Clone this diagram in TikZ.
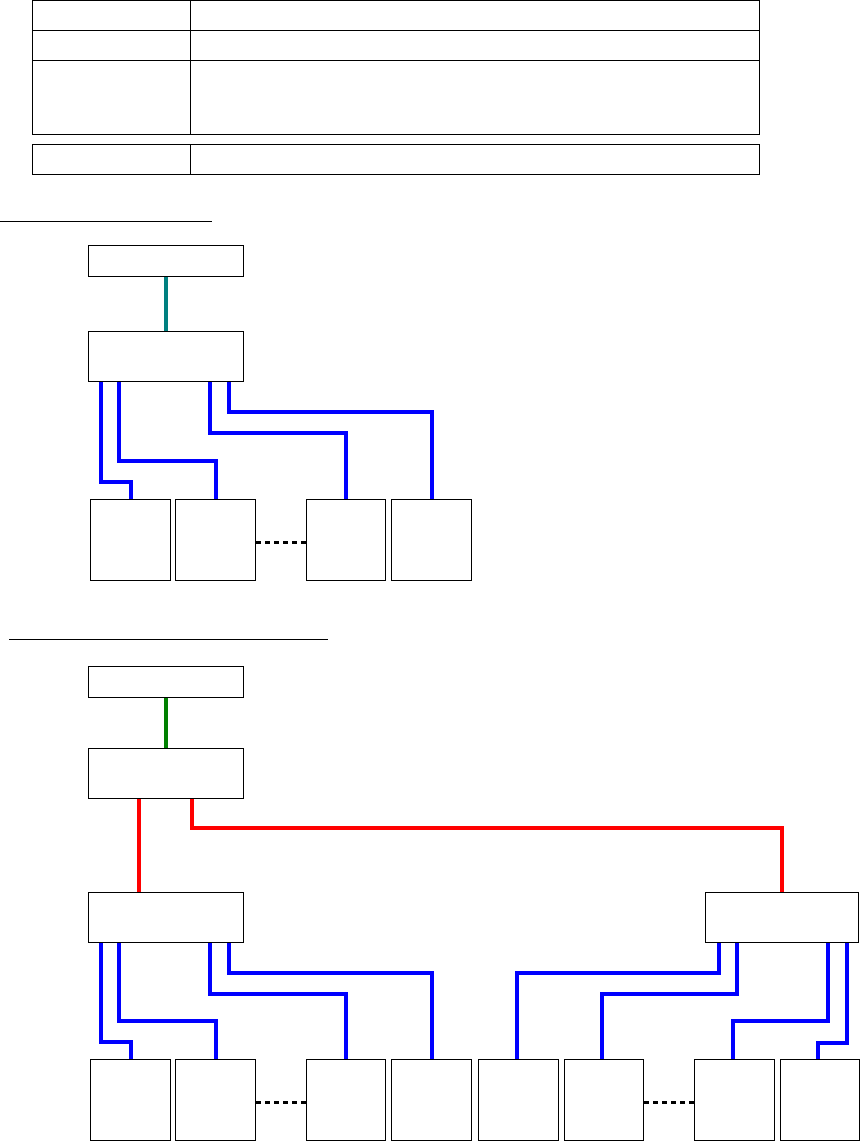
\documentclass[tikz,border=0pt]{standalone}
\definecolor{tealc}{RGB}{0,128,128}
\definecolor{greenc}{RGB}{0,128,0}
\definecolor{bluec}{RGB}{0,0,255}
\definecolor{redc}{RGB}{255,0,0}
\begin{document}
\begin{tikzpicture}[x=1pt,y=-1pt,
  box/.style={draw=black,line width=1pt,inner sep=0pt,anchor=north west,fill=white},
  wide/.style={box,minimum width=154.4pt},
  small/.style={box,minimum width=79.5pt,minimum height=81pt},
  bl/.style={draw=bluec,line width=4pt},
  rd/.style={draw=redc,line width=4pt},
  dotline/.style={draw=black,line width=3.6pt,dash pattern=on 5pt off 4pt},
  tbl/.style={draw=black,line width=1pt}]
\useasboundingbox (0,0) rectangle (860,1141);
% table
\draw[tbl] (32,0.8) rectangle (759.3,134.3);
\draw[tbl] (32,30.3) -- (759.3,30.3);
\draw[tbl] (32,60.3) -- (759.3,60.3);
\draw[tbl] (190.3,0.8) -- (190.3,134.3);
\draw[tbl] (32,144.3) rectangle (759.3,174);
\draw[tbl] (190.3,144.3) -- (190.3,174);
% underlines
\draw[tbl] (0,221) -- (212,221);
\draw[tbl] (9,639.3) -- (328,639.3);

% ---------- section 1 ----------
\node[wide,minimum height=31pt] (A1) at (88.3,245.3) {};
\node[wide,minimum height=50.3pt] (B1) at (88.3,331) {};
\node[small] (s1) at (90.3,499.3) {};
\node[small,minimum width=80pt] (s2) at (175.3,499.3) {};
\node[small,minimum width=79pt] (s3) at (306.3,499.3) {};
\node[small,minimum width=80pt] (s4) at (391.3,499.3) {};
\draw[draw=tealc,line width=4pt] (A1.south) -- (B1.north);
\draw[bl] ([xshift=12.7pt]B1.south west) |- ([yshift=17.6pt]s1.north) -- (s1.north);
\draw[bl] ([xshift=31pt]B1.south west) |- ([yshift=38.6pt]s2.north) -- (s2.north);
\draw[bl] ([xshift=122pt]B1.south west) |- ([yshift=66pt]s3.north) -- (s3.north);
\draw[bl] ([xshift=140.7pt]B1.south west) |- ([yshift=87pt]s4.north) -- (s4.north);
\draw[dotline] ([yshift=-2pt]s2.east) -- ([yshift=-2pt]s3.west);

% ---------- section 2 ----------
\node[wide,minimum height=31pt] (A2) at (88.3,666.3) {};
\node[wide,minimum height=50pt] (B2) at (88.3,748.3) {};
\node[wide,minimum height=50pt] (C) at (88.3,892.3) {};
\node[wide,minimum width=153pt,minimum height=50pt] (D) at (705.3,892.3) {};
\node[small] (t1) at (90.3,1059.3) {};
\node[small,minimum width=80pt] (t2) at (175.3,1059.3) {};
\node[small,minimum width=79pt] (t3) at (306.3,1059.3) {};
\node[small,minimum width=80pt] (t4) at (391.3,1059.3) {};
\node[small,minimum width=80pt] (t5) at (478.3,1059.3) {};
\node[small,minimum width=79pt] (t6) at (564.3,1059.3) {};
\node[small,minimum width=80pt] (t7) at (694.3,1059.3) {};
\node[small,minimum width=78.5pt] (t8) at (780.3,1059.3) {};
\draw[draw=greenc,line width=4pt] (A2.south) -- (B2.north);
\draw[rd] ([xshift=51pt]B2.south west) -- ([xshift=51pt]C.north west);
\draw[rd] ([xshift=103.4pt]B2.south west) |- ([yshift=64.3pt]D.north) -- (D.north);
\draw[bl] ([xshift=12.7pt]C.south west) |- ([yshift=17pt]t1.north) -- (t1.north);
\draw[bl] ([xshift=31pt]C.south west) |- ([yshift=38pt]t2.north) -- (t2.north);
\draw[bl] ([xshift=122pt]C.south west) |- ([yshift=65.6pt]t3.north) -- (t3.north);
\draw[bl] ([xshift=140.7pt]C.south west) |- ([yshift=86.6pt]t4.north) -- (t4.north);
\draw[bl] ([xshift=13.7pt]D.south west) |- ([xshift=-2pt,yshift=86.6pt]t5.north) -- ([xshift=-2pt]t5.north);
\draw[bl] ([xshift=31.4pt]D.south west) |- ([xshift=-2pt,yshift=65.3pt]t6.north) -- ([xshift=-2pt]t6.north);
\draw[bl] ([xshift=122.7pt]D.south west) |- ([xshift=-2pt,yshift=38.3pt]t7.north) -- ([xshift=-2pt]t7.north);
\draw[bl] ([xshift=141.4pt]D.south west) |- ([xshift=-2pt,yshift=16.6pt]t8.north) -- ([xshift=-2pt]t8.north);
\draw[dotline] ([yshift=-2pt]t2.east) -- ([yshift=-2pt]t3.west);
\draw[dotline] ([yshift=-2pt]t6.east) -- ([yshift=-2pt]t7.west);
\end{tikzpicture}
\end{document}
